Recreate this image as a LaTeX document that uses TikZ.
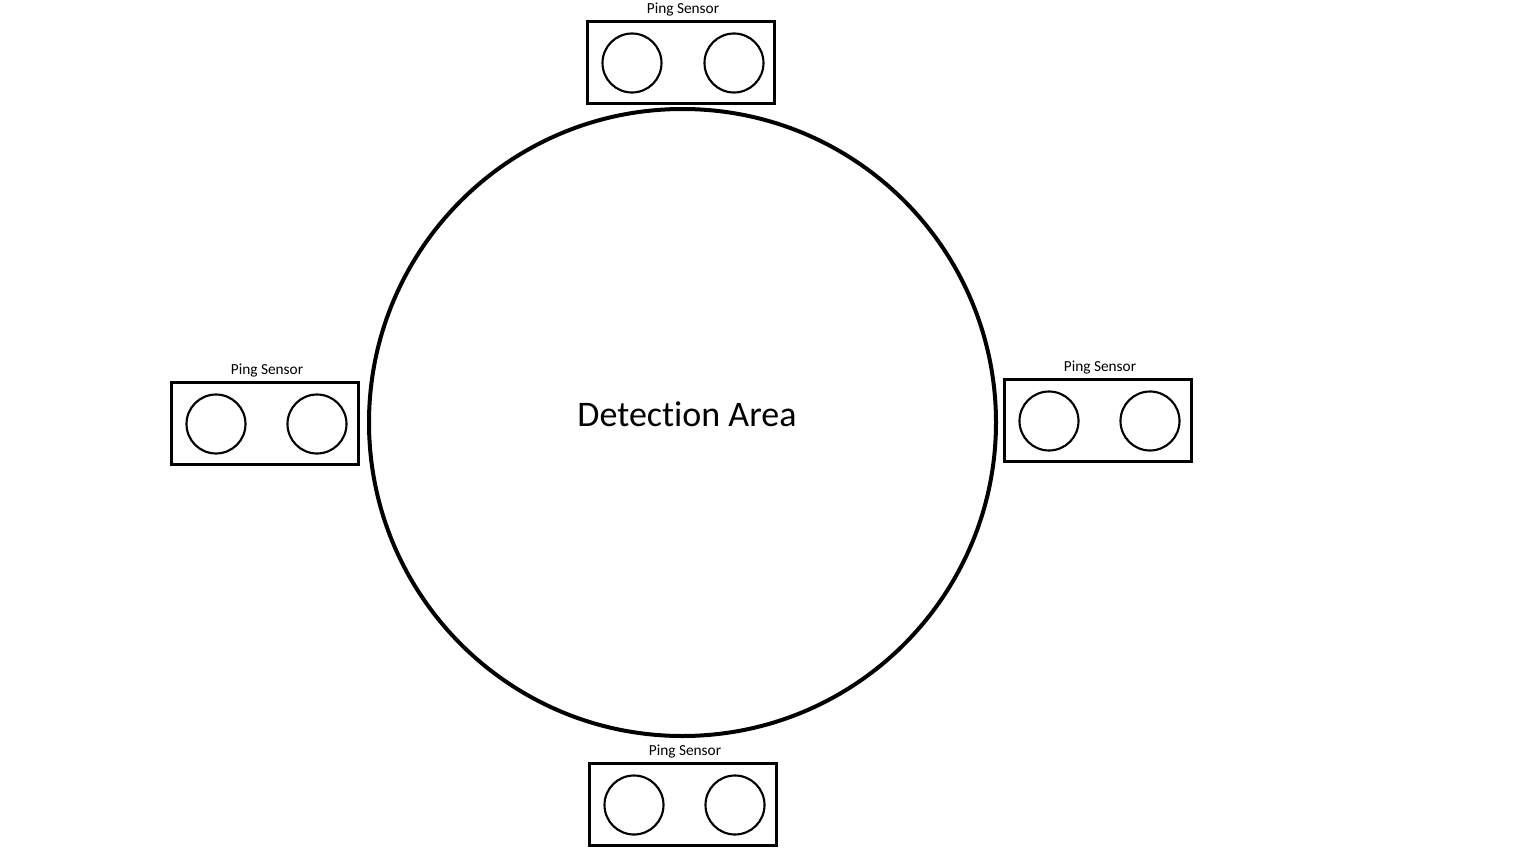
\documentclass[tikz,border=0pt]{standalone}
\usepackage{fontspec}
\setmainfont[Ligatures={NoCommon,NoContextual}]{Carlito}
\begin{document}
\begin{tikzpicture}[x=0.75pt,y=-0.75pt,
  sensorbox/.style={draw=black,line width=2.25pt,minimum width=187*0.75pt,minimum height=82*0.75pt,inner sep=0pt},
  eye/.style={circle,draw=black,line width=1.6pt,minimum size=59*0.75pt,inner sep=0pt},
  sensorlabel/.style={font=\fontsize{11.5}{13}\selectfont,inner sep=0pt,anchor=center},
  area/.style={circle,draw=black,line width=3pt,minimum size=627*0.75pt,inner sep=0pt}]
\useasboundingbox (0,0) rectangle (1536,864);
\fill[white] (0,0) rectangle (1536,864);
% detection area
\node[area] (area) at (682.5,422.5) {};
\node[font=\fontsize{27}{30}\selectfont,inner sep=0pt] (areatext) at (687,414) {Detection Area};
% top sensor
\node[sensorbox] (topbox) at (680.5,62) {};
\node[eye] (topl) at (632,63) {};
\node[eye] (topr) at (734,63) {};
\node[sensorlabel] (toplab) at (683,10) {Ping Sensor};
% left sensor
\node[sensorbox] (leftbox) at (264.5,423) {};
\node[eye] (leftl) at (216,424) {};
\node[eye] (leftr) at (317,424) {};
\node[sensorlabel] (leftlab) at (267,371) {Ping Sensor};
% right sensor
\node[sensorbox] (rightbox) at (1097.5,420) {};
\node[eye] (rightl) at (1049,421) {};
\node[eye] (rightr) at (1150,421) {};
\node[sensorlabel] (rightlab) at (1100,368) {Ping Sensor};
% bottom sensor
\node[sensorbox] (botbox) at (682.5,804) {};
\node[eye] (botl) at (634,805) {};
\node[eye] (botr) at (735,805) {};
\node[sensorlabel] (botlab) at (685,752) {Ping Sensor};
\end{tikzpicture}
\end{document}
